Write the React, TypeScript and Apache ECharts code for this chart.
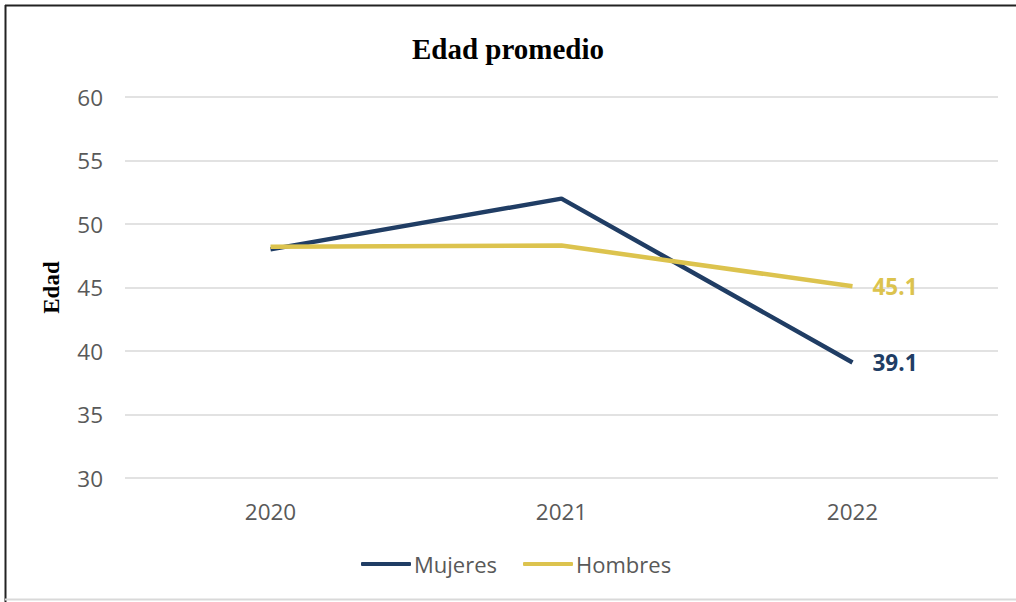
import React, { useEffect, useRef } from "react";
import * as echarts from "echarts";

const years = ["2020", "2021", "2022"];
const mujeres = [48.0, 52.0, 39.1];
const hombres = [48.2, 48.3, 45.1];
const navy = "#203d64";
const gold = "#dcc34e";

export default function App() {
  const ref = useRef<HTMLDivElement>(null);
  useEffect(() => {
    const chart = echarts.init(ref.current!, null, { renderer: "svg" });
    const endLabel = (color: string) => ({
      show: true,
      distance: 20,
      color,
      fontSize: 22.5,
      fontWeight: "bold",
      fontFamily: "Open Sans",
      formatter: (p: any) => Number(p.value).toFixed(1),
    });
    chart.setOption({
      animation: false,
      backgroundColor: "#ffffff",
      title: {
        text: "Edad promedio",
        left: "center",
        top: 29,
        textStyle: { fontFamily: "Liberation Serif", fontWeight: "bold", fontSize: 29, color: "#000" },
      },
      grid: { left: 125, right: 18, top: 97, bottom: 124, containLabel: false },
      legend: {
        bottom: 22,
        left: 356,
        itemWidth: 50,
        itemHeight: 4,
        itemGap: 26,
        icon: "roundRect",
        textStyle: { fontSize: 22, color: "#595959", fontFamily: "Open Sans", padding: [0, 0, 0, -2] },
        data: ["Mujeres", "Hombres"],
      },
      xAxis: {
        type: "category",
        data: years,
        boundaryGap: true,
        axisLine: { show: false },
        axisTick: { show: false },
        axisLabel: { fontSize: 22.5, color: "#595959", fontFamily: "Open Sans", margin: 22 },
      },
      yAxis: {
        type: "value",
        min: 30,
        max: 60,
        interval: 5,
        name: "Edad",
        nameLocation: "middle",
        nameGap: 62,
        nameRotate: 90,
        nameTextStyle: { fontFamily: "Liberation Serif", fontWeight: "bold", fontSize: 23, color: "#000" },
        axisLine: { show: false },
        axisTick: { show: false },
        axisLabel: { fontSize: 22.5, color: "#595959", fontFamily: "Open Sans", margin: 22 },
        splitLine: { lineStyle: { color: "#d9d9d9", width: 1.5 } },
      },
      series: [
        {
          name: "Mujeres",
          type: "line",
          data: mujeres,
          showSymbol: false,
          symbol: "none",
          lineStyle: { color: navy, width: 4.5 },
          itemStyle: { color: navy },
          endLabel: endLabel(navy),
        },
        {
          name: "Hombres",
          type: "line",
          data: hombres,
          showSymbol: false,
          symbol: "none",
          lineStyle: { color: gold, width: 4.5 },
          itemStyle: { color: gold },
          endLabel: endLabel(gold),
        },
      ],
      graphic: [
        { type: "line", shape: { x1: 5, y1: 5.5, x2: 1016, y2: 5.5 }, style: { stroke: "#222", lineWidth: 2 } },
        { type: "line", shape: { x1: 5.5, y1: 5, x2: 5.5, y2: 602 }, style: { stroke: "#222", lineWidth: 2 } },
        { type: "line", shape: { x1: 5, y1: 599.5, x2: 1016, y2: 599.5 }, style: { stroke: "#d9d9d9", lineWidth: 2 } },
      ],
    });
    return () => chart.dispose();
  }, []);
  return (
    <div
      ref={ref}
      style={{ position: "absolute", left: 0, top: 0, width: 1016, height: 602 }}
    />
  );
}
